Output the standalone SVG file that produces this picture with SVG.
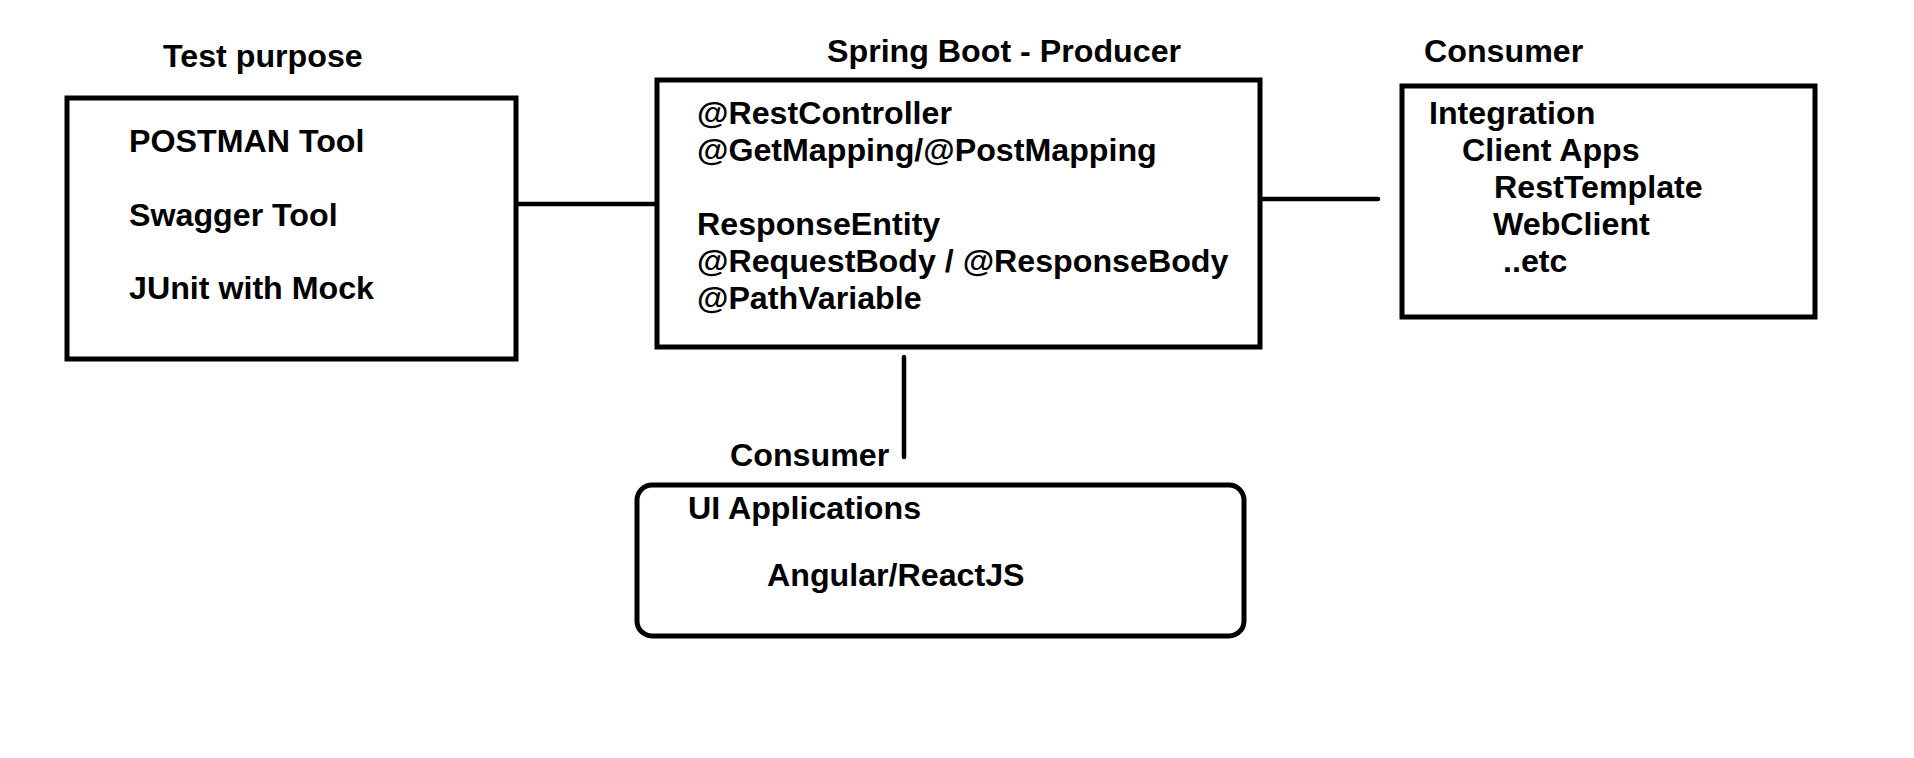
<svg xmlns="http://www.w3.org/2000/svg" width="1914" height="758" viewBox="0 0 1914 758">
<style>
text{font-family:"Liberation Sans",Arial,sans-serif;font-weight:bold;font-size:32.2px;fill:#000}
.box{fill:#fff;stroke:#000;stroke-width:5}
.conn{stroke:#000;stroke-width:4.5;stroke-linecap:round;fill:none}
</style>
<rect width="1914" height="758" fill="#fff"/>
<g id="connectors">
<line class="conn" x1="516" y1="204" x2="657" y2="204"/>
<line class="conn" x1="1260" y1="199" x2="1378" y2="199"/>
<line class="conn" x1="904" y1="357" x2="904" y2="457"/>
</g>
<g id="test-purpose">
<text x="163" y="67">Test purpose</text>
<rect class="box" x="67" y="98" width="449" height="261"/>
<text x="129" y="152">POSTMAN Tool</text>
<text x="129" y="226">Swagger Tool</text>
<text x="129" y="299">JUnit with Mock</text>
</g>
<g id="producer">
<text x="827" y="62">Spring Boot - Producer</text>
<rect class="box" x="657" y="80" width="603" height="267"/>
<text x="697" y="124">@RestController</text>
<text x="697" y="161">@GetMapping/@PostMapping</text>
<text x="697" y="235">ResponseEntity</text>
<text x="697" y="272">@RequestBody / @ResponseBody</text>
<text x="697" y="309">@PathVariable</text>
</g>
<g id="consumer-integration">
<text x="1424" y="62">Consumer</text>
<rect class="box" x="1402" y="86" width="413" height="231"/>
<text x="1429" y="124">Integration</text>
<text x="1462" y="161">Client Apps</text>
<text x="1494" y="198">RestTemplate</text>
<text x="1493" y="235">WebClient</text>
<text x="1503" y="272">..etc</text>
</g>
<g id="consumer-ui">
<text x="730" y="466">Consumer</text>
<rect class="box" x="637" y="485" width="607" height="151" rx="15" ry="15"/>
<text x="688" y="519">UI Applications</text>
<text x="767" y="586">Angular/ReactJS</text>
</g>
</svg>
